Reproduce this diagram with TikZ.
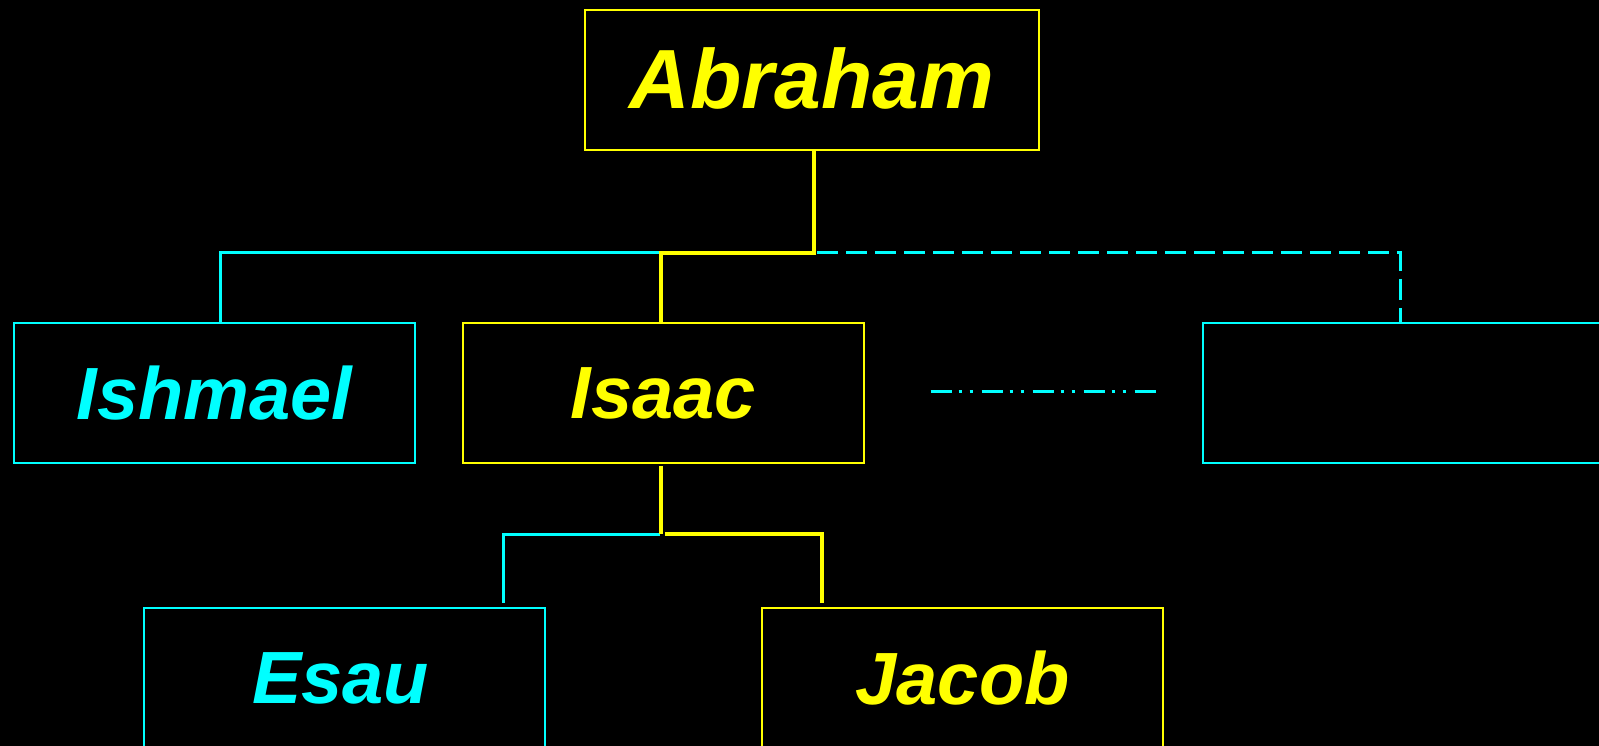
\documentclass[tikz,border=0pt]{standalone}
\usepackage{fontspec}
\setmainfont{Liberation Sans}
\definecolor{yl}{HTML}{FFFF00}
\definecolor{cy}{HTML}{00FFFF}
\tikzset{
  person/.style={draw, line width=2.4pt, inner sep=0pt, minimum height=140, minimum width=401,
    font=\bfseries\itshape\fontsize{74}{78}\selectfont},
  ybox/.style={person, draw=yl, text=yl},
  cbox/.style={person, draw=cy, text=cy},
  yline/.style={draw=yl, line width=3.2pt},
  cline/.style={draw=cy, line width=3pt},
  cdash/.style={cline, dash pattern=on 21pt off 8pt},
  cdashdot/.style={cline, dash pattern=on 21pt off 7pt on 3pt off 8pt on 3pt off 9pt}
}
\begin{document}
\begin{tikzpicture}[x=1pt,y=-1pt]
\useasboundingbox (0,0) rectangle (1599,746);
\fill[black] (0,0) rectangle (1599,746);
\clip (0,0) rectangle (1599,746);

\node[ybox, minimum width=454, font=\bfseries\itshape\fontsize{84}{88}\selectfont] (abraham) at (812,80) {\raisebox{3pt}{Abraham}};
\node[cbox] (ishmael) at (214.5,393) {Ishmael};
\node[ybox] (isaac) at (663.5,393) {Isaac};
\node[cbox, minimum width=402] (other) at (1404,393) {};
\node[cbox] (esau) at (344.5,678) {\hspace*{-8pt}Esau};
\node[ybox] (jacob) at (962.5,678) {Jacob};

\coordinate (bus) at (814,253);
\coordinate (bus2) at (661,534);

% upper generation
\draw[cline] ([xshift=-2.5]isaac.north |- bus) -| ([xshift=5.5]ishmael.north);
\draw[cdash] ([xshift=3]bus) -| ([xshift=-4]other.north);
\draw[yline] ([xshift=2]abraham.south) -- (bus) -| ([xshift=-2.5]isaac.north);

% dash-dot-dot link
\draw[cdashdot] ([xshift=65.5,yshift=2]isaac.east) -- ([xshift=-41,yshift=2]other.west);

% lower generation
\draw[cline] ([xshift=-1]bus2) -| ([xshift=158.5,yshift=4]esau.north);
\draw[yline] ([xshift=4]bus2) -| ([xshift=-140.5,yshift=4]jacob.north);
\draw[yline] ([xshift=-2.5,yshift=-2]isaac.south) -- (bus2);
\end{tikzpicture}
\end{document}
